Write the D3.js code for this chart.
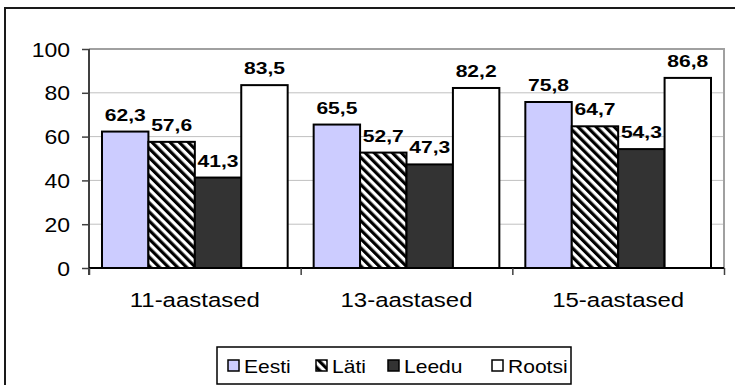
<!DOCTYPE html>
<html><head><meta charset="utf-8">
<script src="https://cdn.jsdelivr.net/npm/d3@7"></script>
<style>
body{margin:0;background:#fff}
svg{display:block}
text{font-family:Arial,"Liberation Sans",sans-serif;fill:#000}
</style>
</head><body>
<svg id="c" width="735" height="385"></svg>
<script>
// ---- data ----
const categories = ["11-aastased", "13-aastased", "15-aastased"];
const seriesNames = ["Eesti", "Läti", "Leedu", "Rootsi"];
const eesti  = [62.3, 65.5, 75.8];
const lati   = [57.6, 52.7, 64.7];
const leedu  = [41.3, 47.3, 54.3];
const rootsi = [83.5, 82.2, 86.8];
const yTicks = [0, 20, 40, 60, 80, 100];

const seriesValues = [eesti, lati, leedu, rootsi];
const rows = categories.map((c, i) => ({cat: c, vals: seriesNames.map((s, j) => ({s, v: seriesValues[j][i]}))}));

// ---- layout / style ----
const fills = {"Eesti": "#ccccff", "Läti": "url(#hatch)", "Leedu": "#333333", "Rootsi": "#ffffff"};
const plot = {l: 89, r: 724, t: 49, b: 268};

const svg = d3.select("#c");
const defs = svg.append("defs");
const pat = defs.append("pattern").attr("id", "hatch").attr("patternUnits", "userSpaceOnUse")
  .attr("width", 6.4).attr("height", 6.4).attr("patternTransform", "rotate(-45)");
pat.append("rect").attr("width", 6.4).attr("height", 6.4).attr("fill", "#fff");
pat.append("rect").attr("width", 3.2).attr("height", 6.4).attr("fill", "#000");

const loc = d3.formatLocale({decimal: ",", thousands: " ", grouping: [3], currency: ["", ""]});
const fmt = loc.format(".1f");

// outer frame (right/bottom edges fall outside the picture)
svg.append("rect").attr("x", 5).attr("y", 8).attr("width", 800).attr("height", 500)
  .attr("fill", "none").attr("stroke", "#1a1a1a").attr("stroke-width", 2);

const x0 = d3.scaleBand().domain(categories).range([plot.l, plot.r]).paddingInner(0).paddingOuter(0);
const x1 = d3.scaleBand().domain(seriesNames).range([0, x0.bandwidth()]).paddingInner(0).paddingOuter(0.28);
const y = d3.scaleLinear().domain([0, 100]).range([plot.b, plot.t]);
const xb = d3.scaleLinear().domain([0, categories.length]).range([plot.l, plot.r]);

// gridlines
svg.append("g").selectAll("line").data(yTicks.filter(t => t > 0 && t < 100)).join("line")
  .attr("x1", plot.l).attr("x2", plot.r).attr("y1", d => y(d)).attr("y2", d => y(d))
  .attr("stroke", "#c0c0c0").attr("stroke-width", 1);

// plot-area border (top/right)
svg.append("path").attr("d", `M${plot.l},${plot.t}H${plot.r}V${plot.b}`)
  .attr("fill", "none").attr("stroke", "#a0a0a0").attr("stroke-width", 2);

// bars
const g = svg.append("g").selectAll("g").data(rows).join("g")
  .attr("transform", d => `translate(${x0(d.cat)},0)`);
g.selectAll("rect").data(d => d.vals).join("rect")
  .attr("x", d => x1(d.s)).attr("width", x1.bandwidth())
  .attr("y", d => y(d.v)).attr("height", d => y(0) - y(d.v))
  .attr("fill", d => fills[d.s]).attr("stroke", "#000").attr("stroke-width", 2);

// value labels
g.selectAll("text").data(d => d.vals).join("text")
  .attr("transform", d => `translate(${x1(d.s) + x1.bandwidth() / 2},${y(d.v) - 11}) scale(1.24,1)`)
  .attr("text-anchor", "middle").style("font-size", "17px").style("font-weight", "bold")
  .text(d => fmt(d.v));

// y axis
const ya = svg.append("g").attr("transform", `translate(${plot.l},0)`)
  .call(d3.axisLeft(y).tickValues(yTicks).tickSize(7).tickPadding(0).tickSizeOuter(0));
ya.select(".domain").attr("stroke", "#404040").attr("stroke-width", 2)
  .attr("d", `M0,${plot.t}V${plot.b + 7}`);
ya.selectAll(".tick line").attr("stroke", "#404040").attr("stroke-width", 1.5);
ya.selectAll(".tick text").attr("x", null).attr("dy", null)
  .attr("transform", `translate(-19,7) scale(1.15,1)`)
  .attr("text-anchor", "end").style("font-size", "20px").attr("fill", "#000")
  .style("font-family", "Arial, 'Liberation Sans', sans-serif");

// x axis (boundary ticks)
const xa = svg.append("g").attr("transform", `translate(0,${plot.b})`)
  .call(d3.axisBottom(xb).tickValues(d3.range(categories.length + 1)).tickSize(7).tickFormat("").tickSizeOuter(0));
xa.select(".domain").attr("stroke", "#000").attr("stroke-width", 2).attr("d", `M${plot.l},0H${plot.r}`);
xa.selectAll(".tick line").attr("stroke", "#404040").attr("stroke-width", 1.5);

// category labels
svg.append("g").selectAll("text").data(categories).join("text")
  .attr("transform", d => `translate(${x0(d) + x0.bandwidth() / 2},307) scale(1.17,1)`)
  .attr("text-anchor", "middle").style("font-size", "20.5px").text(d => d);

// legend
const lg = svg.append("g");
lg.append("rect").attr("x", 217).attr("y", 347).attr("width", 354).attr("height", 37)
  .attr("fill", "#fff").attr("stroke", "#000").attr("stroke-width", 1.5);
const itemX = [228, 316, 388, 492];
const items = lg.selectAll("g").data(seriesNames).join("g")
  .attr("transform", (d, i) => `translate(${itemX[i]},360)`);
items.append("rect").attr("width", 11).attr("height", 11)
  .attr("fill", d => fills[d]).attr("stroke", "#000").attr("stroke-width", 1.5);
items.append("text").attr("transform", `translate(16,12.5) scale(1.17,1)`)
  .style("font-size", "18px").text(d => d);
</script>
</body></html>
